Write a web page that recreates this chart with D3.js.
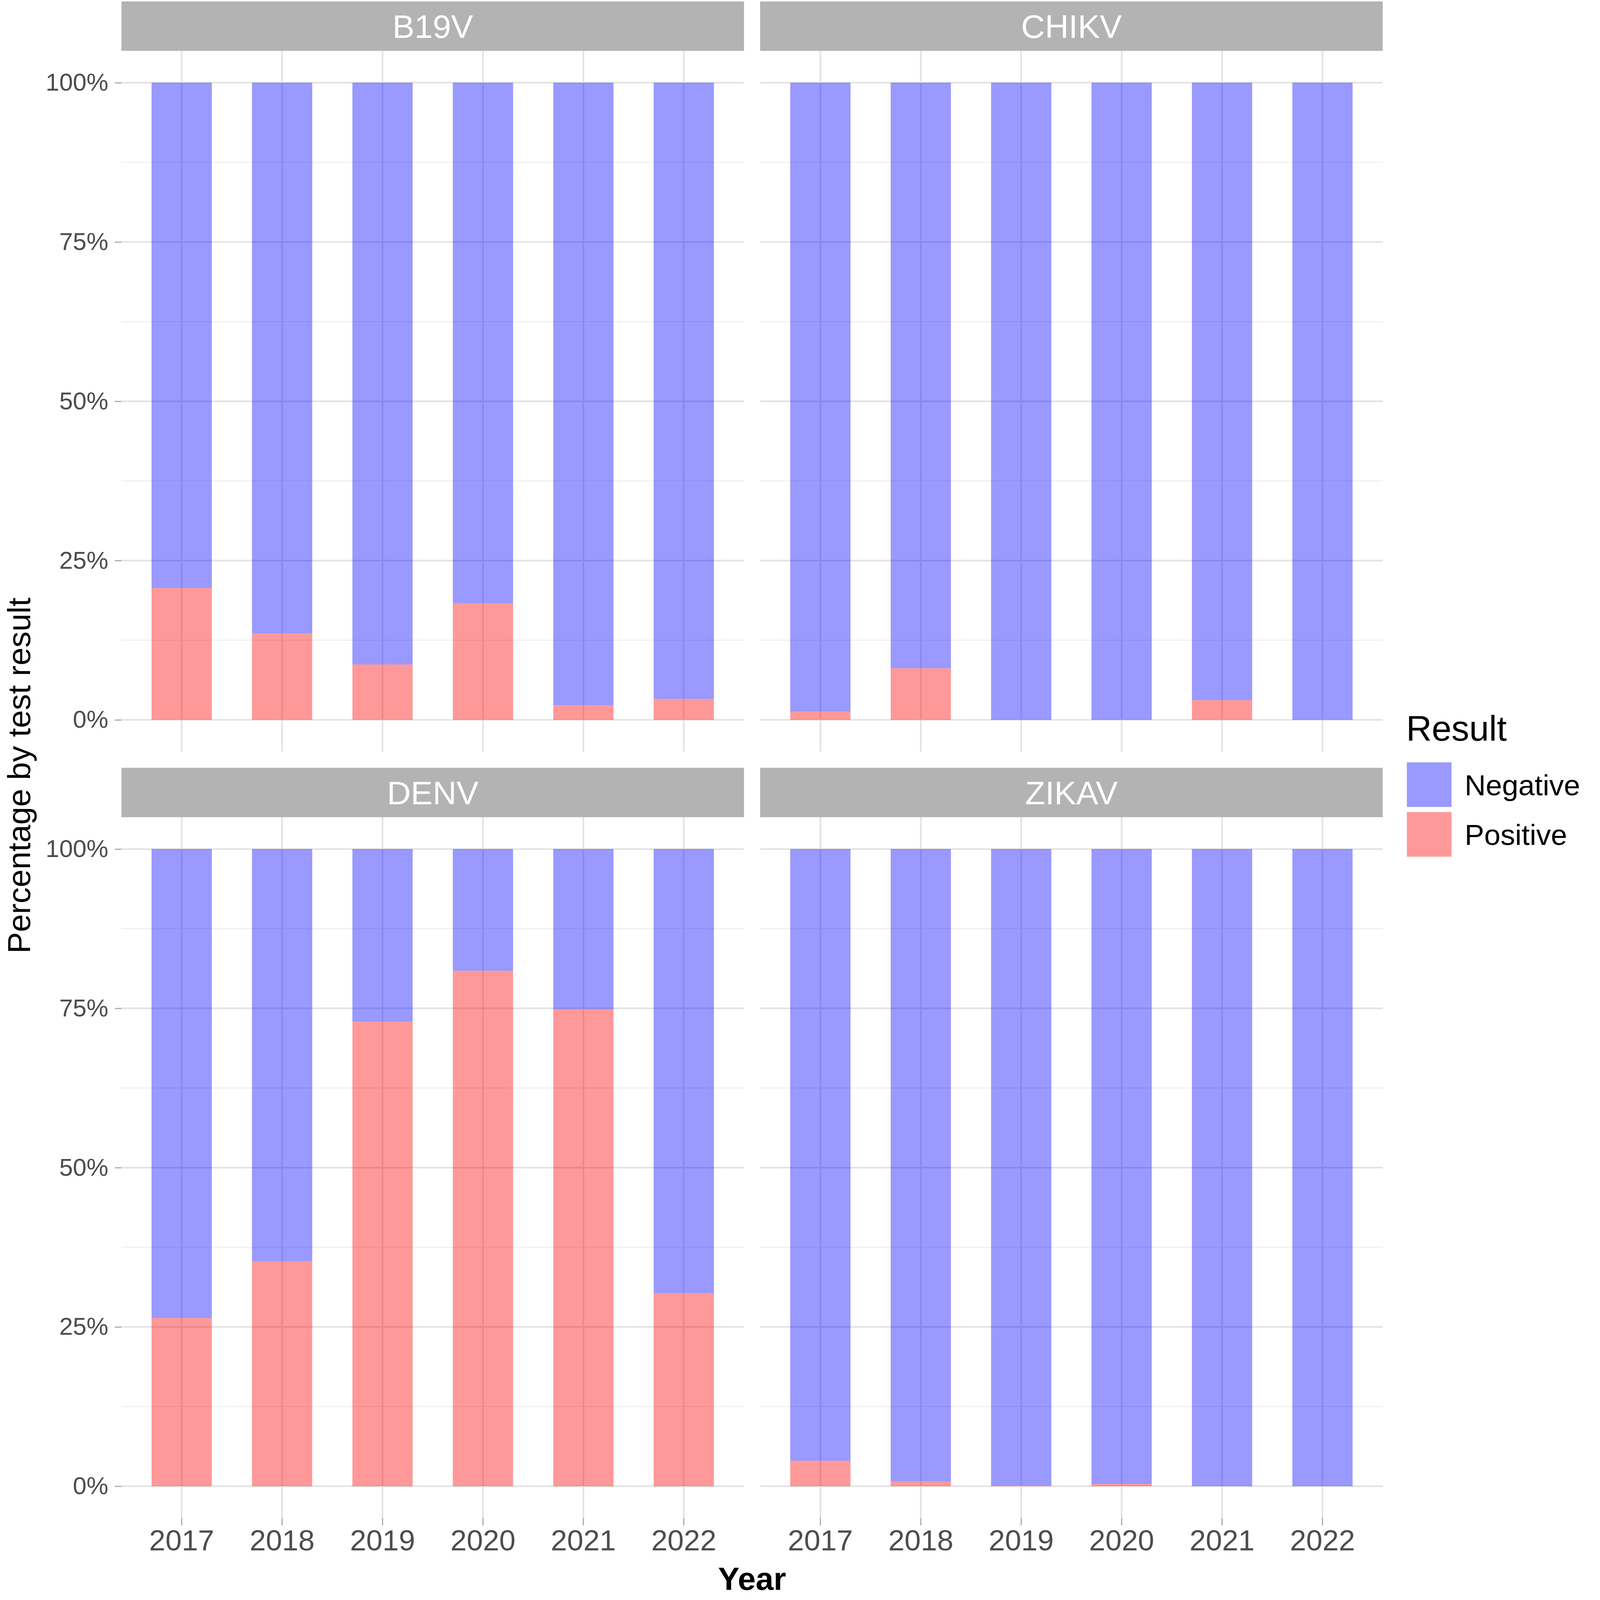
<!DOCTYPE html>
<html>
<head>
<meta charset="utf-8">
<script src="https://cdn.jsdelivr.net/npm/d3@7"></script>
<style>
  html, body { margin: 0; padding: 0; background: #ffffff; overflow: hidden; width: 100%; height: 100%; }
  svg { display: block; width: 100vw; height: 100vh; font-family: "Liberation Sans", Arial, Helvetica, sans-serif; }
</style>
</head>
<body>
<svg id="chart" viewBox="0 0 4328 4374" preserveAspectRatio="xMinYMin meet"></svg>
<script>
// ---------------- DATA ----------------
const viruses = ["B19V", "CHIKV", "DENV", "ZIKAV"];
const years = ["2017", "2018", "2019", "2020", "2021", "2022"];
const results = ["Negative", "Positive"];

// percentage of tests per year (%)
const b19vPositive  = [20.7, 13.6, 8.7, 18.3, 2.3, 3.3];
const b19vNegative  = [79.3, 86.4, 91.3, 81.7, 97.7, 96.7];
const chikvPositive = [1.3, 8.1, 0.0, 0.0, 3.1, 0.0];
const chikvNegative = [98.7, 91.9, 100.0, 100.0, 96.9, 100.0];
const denvPositive  = [26.4, 35.3, 72.9, 80.9, 74.9, 30.3];
const denvNegative  = [73.6, 64.7, 27.1, 19.1, 25.1, 69.7];
const zikavPositive = [4.0, 0.75, 0.1, 0.35, 0.0, 0.0];
const zikavNegative = [96.0, 99.25, 99.9, 99.65, 100.0, 100.0];

const yTickValues = [0, 0.25, 0.5, 0.75, 1];
const yTickLabels = ["0%", "25%", "50%", "75%", "100%"];
const yMinorValues = [0.125, 0.375, 0.625, 0.875];

const resultColors = ["#0000FF", "#FF0000"]; // Negative, Positive (drawn with alpha 0.4)

const positiveByVirus = [b19vPositive, chikvPositive, denvPositive, zikavPositive];
const negativeByVirus = [b19vNegative, chikvNegative, denvNegative, zikavNegative];

// ---------------- LAYOUT ----------------
const svg = d3.select("#chart");
const W = 4328, H = 4374;
svg.append("rect").attr("width", W).attr("height", H).attr("fill", "#ffffff");

const colX = [[332, 2034], [2078, 3780]];
const rowY = [{ stripTop: 4, panelTop: 139, panelBottom: 2055 },
              { stripTop: 2099, panelTop: 2234, panelBottom: 4150 }];
const stripH = 135;

const color = d3.scaleOrdinal().domain(results).range(resultColors);
const fillAlpha = 0.4;

viruses.forEach((virus, vi) => {
  const col = vi % 2, row = Math.floor(vi / 2);
  const [x0, x1] = colX[col];
  const R = rowY[row];

  const x = d3.scaleBand().domain(years).range([x0, x1]).paddingInner(0.4).paddingOuter(0.3);
  const y = d3.scaleLinear().domain([-0.05, 1.05]).range([R.panelBottom, R.panelTop]);

  const g = svg.append("g");

  // strip
  g.append("rect").attr("x", x0).attr("y", R.stripTop).attr("width", x1 - x0).attr("height", stripH)
    .attr("fill", "#B3B3B3");
  g.append("text").attr("x", (x0 + x1) / 2).attr("y", R.stripTop + stripH / 2)
    .attr("dy", "0.36em").attr("text-anchor", "middle").attr("fill", "#ffffff")
    .attr("font-size", 90).text(virus);

  // grid: minor horizontal
  g.selectAll(".minor").data(yMinorValues).enter().append("line")
    .attr("x1", x0).attr("x2", x1).attr("y1", d => y(d)).attr("y2", d => y(d))
    .attr("stroke", "#EDEDED").attr("stroke-width", 2.5);
  // grid: major horizontal
  g.selectAll(".major").data(yTickValues).enter().append("line")
    .attr("x1", x0).attr("x2", x1).attr("y1", d => y(d)).attr("y2", d => y(d))
    .attr("stroke", "#E3E3E3").attr("stroke-width", 4.5);
  // grid: major vertical
  g.selectAll(".vmajor").data(years).enter().append("line")
    .attr("x1", d => x(d) + x.bandwidth() / 2).attr("x2", d => x(d) + x.bandwidth() / 2)
    .attr("y1", R.panelTop).attr("y2", R.panelBottom)
    .attr("stroke", "#E3E3E3").attr("stroke-width", 4.5);

  // stacked bars (Positive at the bottom, Negative on top)
  const rows = years.map((yr, i) => ({
    year: yr,
    Negative: negativeByVirus[vi][i] / 100,
    Positive: positiveByVirus[vi][i] / 100
  }));
  const stack = d3.stack().keys(["Positive", "Negative"]);
  const series = stack(rows);
  series.forEach(s => {
    g.selectAll(null).data(s).enter().append("rect")
      .attr("x", d => x(d.data.year))
      .attr("width", x.bandwidth())
      .attr("y", d => y(d[1]))
      .attr("height", d => Math.max(0, y(d[0]) - y(d[1])))
      .attr("fill", color(s.key))
      .attr("fill-opacity", fillAlpha);
  });

  // y axis on left column
  if (col === 0) {
    const ay = d3.axisLeft(y).tickValues(yTickValues)
      .tickFormat((d, i) => yTickLabels[i]).tickSize(18).tickPadding(18);
    const axg = svg.append("g").attr("transform", `translate(${x0},0)`).call(ay);
    axg.select(".domain").remove();
    axg.selectAll(".tick line").attr("stroke", "#A6A6A6").attr("stroke-width", 3);
    axg.selectAll(".tick text").attr("fill", "#4D4D4D").attr("font-size", 67)
      .attr("font-family", "Liberation Sans, Arial, sans-serif");
  }
  // x axis on bottom row
  if (row === 1) {
    const ax = d3.axisBottom(x).tickSize(20).tickPadding(12);
    const axg = svg.append("g").attr("transform", `translate(0,${R.panelBottom})`).call(ax);
    axg.select(".domain").remove();
    axg.selectAll(".tick line").attr("stroke", "#A6A6A6").attr("stroke-width", 3);
    axg.selectAll(".tick text").attr("fill", "#4D4D4D").attr("font-size", 80)
      .attr("font-family", "Liberation Sans, Arial, sans-serif");
  }
});

// axis titles
svg.append("text").attr("x", (colX[0][0] + colX[1][1]) / 2).attr("y", 4346)
  .attr("text-anchor", "middle").attr("font-size", 88).attr("font-weight", "bold")
  .attr("fill", "#000000").text("Year");
svg.append("text").attr("transform", "translate(82,2120) rotate(-90)")
  .attr("text-anchor", "middle").attr("font-size", 88).attr("fill", "#000000")
  .text("Percentage by test result");

// legend
const lg = svg.append("g");
lg.append("text").attr("x", 3844).attr("y", 2025).attr("font-size", 97).attr("fill", "#000000").text("Result");
const keyY = d3.scalePoint().domain(results).range([2084, 2220]);
results.forEach(r => {
  lg.append("rect").attr("x", 3846).attr("y", keyY(r)).attr("width", 122).attr("height", 122)
    .attr("fill", color(r)).attr("fill-opacity", fillAlpha);
  lg.append("text").attr("x", 4004).attr("y", keyY(r) + 61).attr("dy", "0.36em")
    .attr("font-size", 80).attr("fill", "#000000").text(r);
});
</script>
</body>
</html>
